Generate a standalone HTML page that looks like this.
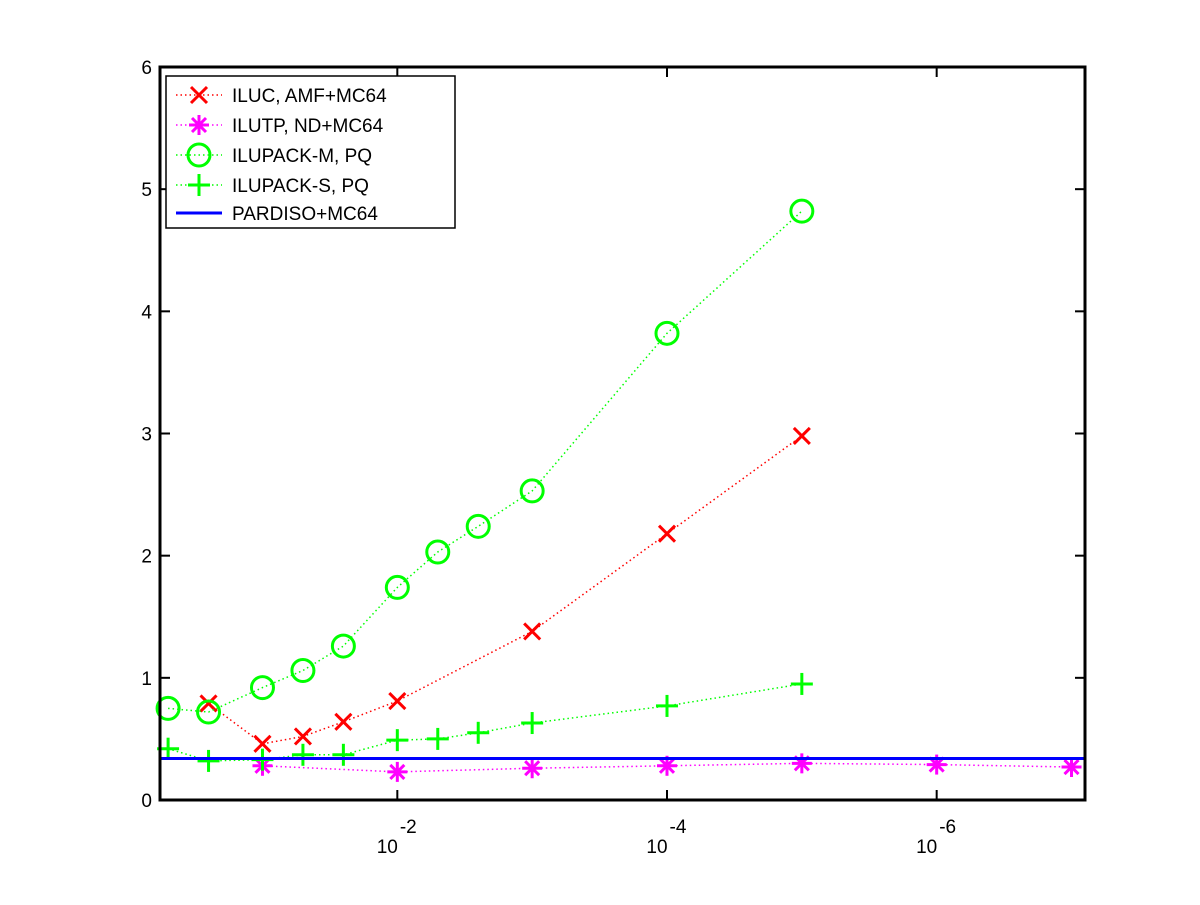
<!DOCTYPE html>
<html><head><meta charset="utf-8"><style>
html,body{margin:0;padding:0;background:#fff;}
svg text{font-family:"Liberation Sans",sans-serif;}
</style></head><body>
<svg id="chart" width="1200" height="900" xmlns="http://www.w3.org/2000/svg">
<rect x="0" y="0" width="1200" height="900" fill="#fff"/>
<g id="marks"></g>
<g id="axes"></g>
<g id="legend"></g>
</svg>
<script>
const xExp = [0.3, 0.6, 1, 1.3, 1.6, 2, 2.3, 2.6, 3, 4, 5, 6, 7];
const ilucX = [0.6, 1, 1.3, 1.6, 2, 3, 4, 5];
const ilucY = [0.79, 0.46, 0.52, 0.64, 0.81, 1.38, 2.18, 2.98];
const ilutpX = [1, 2, 3, 4, 5, 6, 7];
const ilutpY = [0.28, 0.23, 0.26, 0.28, 0.30, 0.29, 0.27];
const ilmX = [0.3, 0.6, 1, 1.3, 1.6, 2, 2.3, 2.6, 3, 4, 5];
const ilmY = [0.75, 0.72, 0.92, 1.06, 1.26, 1.74, 2.03, 2.24, 2.53, 3.82, 4.82];
const ilsX = [0.3, 0.6, 1, 1.3, 1.6, 2, 2.3, 2.6, 3, 4, 5];
const ilsY = [0.42, 0.32, 0.33, 0.37, 0.37, 0.49, 0.50, 0.55, 0.63, 0.77, 0.95];
const pardisoY = [0.34];
const yTicks = [0, 1, 2, 3, 4, 5, 6];
const xTicks = [2, 4, 6];
const xTickLabels = ["-2", "-4", "-6"];

const L = 160, R = 1085, T = 67, B = 800;
const xMin = 0.24, xMax = 7.1;
const X = e => L + (e - xMin) / (xMax - xMin) * (R - L);
const Y = v => B - v / 6 * (B - T);
const NS = "http://www.w3.org/2000/svg";
function mk(tag, attrs, parent) {
  const el = document.createElementNS(NS, tag);
  for (const k in attrs) el.setAttribute(k, attrs[k]);
  parent.appendChild(el);
  return el;
}
const marks = document.getElementById('marks');
const axes = document.getElementById('axes');
const legend = document.getElementById('legend');

function marker(type, cx, cy, color, parent) {
  const g = mk('g', {stroke: color, 'stroke-width': 3, fill: 'none'}, parent);
  if (type === 'x') {
    mk('line', {x1: cx-8, y1: cy-8, x2: cx+8, y2: cy+8}, g);
    mk('line', {x1: cx-8, y1: cy+8, x2: cx+8, y2: cy-8}, g);
  } else if (type === 'o') {
    mk('circle', {cx: cx, cy: cy, r: 11}, g);
  } else if (type === '+') {
    mk('line', {x1: cx-11, y1: cy, x2: cx+11, y2: cy}, g);
    mk('line', {x1: cx, y1: cy-11, x2: cx, y2: cy+11}, g);
  } else if (type === '*') {
    mk('line', {x1: cx-10, y1: cy, x2: cx+10, y2: cy}, g);
    mk('line', {x1: cx, y1: cy-10, x2: cx, y2: cy+10}, g);
    mk('line', {x1: cx-7, y1: cy-7, x2: cx+7, y2: cy+7}, g);
    mk('line', {x1: cx-7, y1: cy+7, x2: cx+7, y2: cy-7}, g);
  }
  return g;
}
const series = [
  {name: 'iluc', xs: ilucX, ys: ilucY, color: '#ff0000', m: 'x'},
  {name: 'ilutp', xs: ilutpX, ys: ilutpY, color: '#ff00ff', m: '*'},
  {name: 'ilupack-m', xs: ilmX, ys: ilmY, color: '#00ff00', m: 'o'},
  {name: 'ilupack-s', xs: ilsX, ys: ilsY, color: '#00ff00', m: '+'}
];
series.forEach(s => {
  const pts = s.xs.map((e, i) => X(e) + ',' + Y(s.ys[i])).join(' ');
  const pl = mk('polyline', {points: pts, fill: 'none', stroke: s.color, 'stroke-width': 1.5, 'stroke-dasharray': '1.5,3'}, marks);
  
  
  s.xs.forEach((e, i) => {
    const g = marker(s.m, X(e), Y(s.ys[i]), s.color, marks);
    
    
  });
});
const pl = mk('line', {x1: L, x2: R, y1: Y(pardisoY[0]), y2: Y(pardisoY[0]), stroke: '#0000ff', 'stroke-width': 3}, marks);



// axes box
const box = mk('rect', {x: L, y: T, width: R - L, height: B - T, fill: 'none', stroke: '#000', 'stroke-width': 3}, axes);


yTicks.forEach(v => {
  mk('line', {x1: L, x2: L + 10, y1: Y(v), y2: Y(v), stroke: '#000', 'stroke-width': 2}, axes);
  mk('line', {x1: R, x2: R - 10, y1: Y(v), y2: Y(v), stroke: '#000', 'stroke-width': 2}, axes);
  const t = mk('text', {x: L - 8, y: Y(v) + 7, 'text-anchor': 'end', 'font-size': 19}, axes);
  t.textContent = v;
  
  
});
xTicks.forEach((e, i) => {
  mk('line', {x1: X(e), x2: X(e), y1: B, y2: B - 10, stroke: '#000', 'stroke-width': 2}, axes);
  mk('line', {x1: X(e), x2: X(e), y1: T, y2: T + 10, stroke: '#000', 'stroke-width': 2}, axes);
  const t = mk('text', {x: X(e) - 10, y: B + 53, 'text-anchor': 'middle', 'font-size': 19}, axes);
  t.textContent = '10';
  
  
  const s = mk('text', {x: X(e) + 11, y: B + 33, 'text-anchor': 'middle', 'font-size': 19}, axes);
  s.textContent = xTickLabels[i];
  
  
});

// legend
const lb = mk('rect', {x: 166, y: 76, width: 289, height: 152, fill: '#fff', stroke: '#000', 'stroke-width': 1.5}, legend);


const legLabels = ['ILUC, AMF+MC64', 'ILUTP,  ND+MC64', 'ILUPACK-M, PQ', 'ILUPACK-S, PQ', 'PARDISO+MC64'];
const legColors = ['#ff0000', '#ff00ff', '#00ff00', '#00ff00', '#0000ff'];
const legMarks = ['x', '*', 'o', '+', null];
const legY = [95, 125, 155, 185, 213];
legLabels.forEach((lab, i) => {
  const g = mk('g', {}, legend);
  
  
  if (legMarks[i]) {
    mk('line', {x1: 176, x2: 222, y1: legY[i], y2: legY[i], stroke: legColors[i], 'stroke-width': 1.5, 'stroke-dasharray': '1.5,3'}, g);
    marker(legMarks[i], 199, legY[i], legColors[i], g);
  } else {
    mk('line', {x1: 176, x2: 222, y1: legY[i], y2: legY[i], stroke: legColors[i], 'stroke-width': 3}, g);
  }
  const t = mk('text', {x: 232, y: legY[i] + 7, 'font-size': 19}, g);
  t.textContent = lab;
});
</script>
</body></html>
